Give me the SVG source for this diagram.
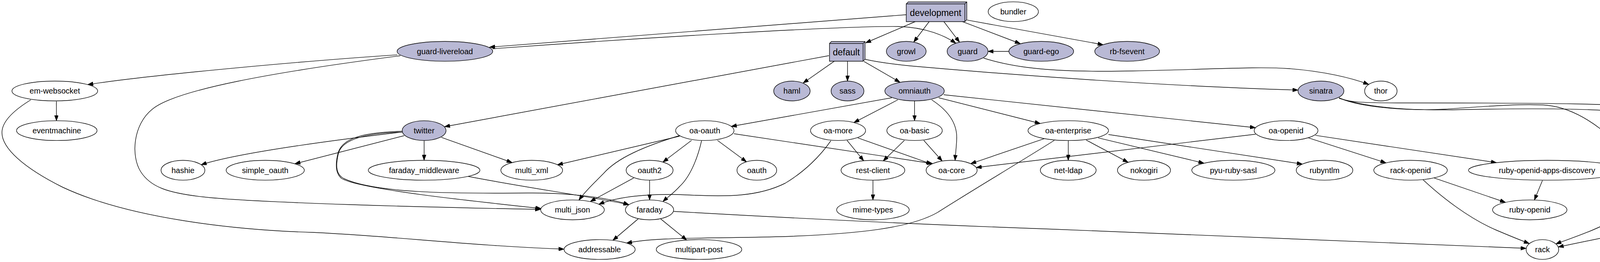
<svg xmlns="http://www.w3.org/2000/svg" width="4570" height="672" viewBox="0 0 4570 672">
<defs>
<marker id="ah" viewBox="0 0 14 10" refX="14" refY="5" markerWidth="14" markerHeight="10" orient="auto" markerUnits="userSpaceOnUse">
<path d="M0,0 L14,5 L0,10 z" fill="#000" stroke="#000" stroke-width="1"/>
</marker>
</defs>
<style>
.n ellipse, .n polygon {stroke:#000; stroke-width:1.4; fill:#fff}
.f ellipse, .f polygon {fill:#B9B9D5}
.n line {stroke:#000; stroke-width:1.4}
text {font-family:"Liberation Sans", Arial, sans-serif; font-size:20px; text-anchor:middle; fill:#000}
.g text {font-size:23px}
#edges path {fill:none; stroke:#000; stroke-width:1.4; marker-end:url(#ah)}
</style>
<rect width="4570" height="672" fill="#fff"/>
<g id="edges">
<path d="M2320,37.7 L1253,121"/>
<path d="M1261,125 C1600,100 2150,66 2300,68 C2370,70 2420,92 2447,111"/>
<path d="M2344,55 L2216,110"/>
<path d="M2379,55 L2339,108"/>
<path d="M2416,55 L2456.5,108.3"/>
<path d="M2459,53.6 L2612,112"/>
<path d="M2475.5,51.4 L2824,114.7"/>
<path d="M2582.7,131.7 L2529.3,131.7"/>
<path d="M2518,149 C2600,175 2700,186 2900,182 C3100,178 3220,170 3300,176 C3390,183 3460,200 3504,216.5"/>
<path d="M1017,140.6 C800,155 400,190 224.5,217"/>
<path d="M1025,143 C700,185 450,230 390,280 C340,320 335,400 360,440 C385,480 430,495 520,505 C650,520 1100,532 1384,537"/>
<path d="M144.4,260 L144.5,309.6"/>
<path d="M79,256 C40,280 5,310 5,340 C5,380 60,430 160,480 C330,560 600,590 800,596 C1000,605 1200,630 1444,639"/>
<path d="M2122,142.7 L1138,325"/>
<path d="M2136.7,156.4 L2056,213"/>
<path d="M2169.6,157 L2169.6,208"/>
<path d="M2211.7,157.7 L2304,211"/>
<path d="M2214,152 C2250,160 2280,164 2330,169 C2600,193 3000,222 3323,231"/>
<path d="M2283,250.7 L1872,324.3"/>
<path d="M2298.5,256 L2186,314.3"/>
<path d="M2341.3,258.8 L2341.3,309.6"/>
<path d="M2385,256 C2430,285 2452,320 2449,360 C2448,380 2446,395 2445,411.5"/>
<path d="M2403,250.7 L2663,316.7"/>
<path d="M2415.8,243 C2600,260 2900,292 3214,327.5"/>
<path d="M3428,251 C3450,262 3480,264 3600,264 C3900,264 4200,264 4350,284 C4420,296 4458,340 4458,430 C4458,470 4457,490 4456,512.6"/>
<path d="M3428,251 C3480,275 3600,285 3700,280 C3800,273 3900,265 3960,270 C4060,280 4150,370 4195,430 C4230,480 4180,540 4110,575 C4060,600 4010,615 3983,625.6"/>
<path d="M3428,252 C3500,275 3600,285 3750,281 C3950,277 4120,278 4230,295 C4270,302 4300,312 4320,321.9"/>
<path d="M1030,338.6 C800,366 600,395 515,422.5"/>
<path d="M1034.7,348 L755,420"/>
<path d="M1085.7,360.4 L1085.7,411.3"/>
<path d="M1130,352.3 L1311,417"/>
<path d="M1030,336.4 C940,340 880,350 866,390 C858,420 858,445 875,458 C920,485 1200,515 1385,534.7"/>
<path d="M1030,338.6 C940,342 875,355 866,395 C858,430 862,448 880,458 C960,495 1150,497 1350,495 C1450,494 1550,505 1610,525"/>
<path d="M1196,452 C1350,482 1500,502 1610,525"/>
<path d="M1739.8,349.3 L1427,422.7"/>
<path d="M1742,347 C1650,375 1580,405 1545,445 C1515,475 1495,495 1482,513.4"/>
<path d="M1770.4,360 L1697,415.8"/>
<path d="M1836.7,360 L1911,415"/>
<path d="M1796,361 C1785,410 1765,455 1740,478 C1725,495 1710,505 1697,517"/>
<path d="M1879,343 L2388,419.7"/>
<path d="M2196,353.6 L2385,420.9"/>
<path d="M2168.4,360 L2211,412.4"/>
<path d="M2127,361 C2100,400 2060,440 2010,470 C1940,505 1860,505 1760,500 C1660,495 1580,505 1533,524"/>
<path d="M2315.3,360 L2261,412.6"/>
<path d="M2364.8,360 L2412,413"/>
<path d="M2234.7,462.1 L2234.7,512.9"/>
<path d="M1622.4,456.4 L1511,517"/>
<path d="M1663,462.1 L1663,512.9"/>
<path d="M1633.7,561.4 L1569,616.4"/>
<path d="M1691.3,561.4 L1758,615.7"/>
<path d="M1724.5,542.2 C2000,558 2300,574 2700,588 C3200,608 3600,628 3907,637"/>
<path d="M2673.5,355.7 L2485,419.8"/>
<path d="M2734.7,360.4 L2734.7,411.3"/>
<path d="M2780.6,359.2 L2888,416.4"/>
<path d="M2811.2,353.6 L3082,418.5"/>
<path d="M2837.7,345 L3334,420.9"/>
<path d="M2699,360 C2620,410 2470,500 2400,545 C2330,585 2200,600 2000,607 C1800,612 1680,608 1604,623.6"/>
<path d="M3214.3,344.2 L2499,429.7"/>
<path d="M3349.5,353.6 L3548,417.7"/>
<path d="M3367.3,347.1 L3831,417.2"/>
<path d="M3671,456.4 L3854,519"/>
<path d="M3643,461 C3690,505 3760,560 3830,590 C3870,607 3895,617 3915,624.6"/>
<path d="M3948.6,462.9 L3928,513.1"/>
<path d="M4364.4,555.9 L3989,633.5"/>
</g>
<g id="development" class="n f g">
<polygon points="2320,10 2325,5 2475,5 2475,50.5 2470,55.5 2320,55.5"/>
<line x1="2320" y1="10" x2="2470" y2="10"/><line x1="2470" y1="10" x2="2475" y2="5"/><line x1="2470" y1="10" x2="2470" y2="55.5"/>
<text x="2395" y="40.5">development</text>
</g>
<g id="default" class="n f g">
<polygon points="2123.5,111.5 2128.5,106.5 2214.5,106.5 2214.5,152 2209.5,157 2123.5,157"/>
<line x1="2123.5" y1="111.5" x2="2209.5" y2="111.5"/><line x1="2209.5" y1="111.5" x2="2214.5" y2="106.5"/><line x1="2209.5" y1="111.5" x2="2209.5" y2="157"/>
<text x="2166.5" y="142">default</text>
</g>
<g id="bundler" class="n"><ellipse cx="2594" cy="30" rx="64.3" ry="25.4"/><text x="2594" y="37">bundler</text></g>
<g id="guard-livereload" class="n f"><ellipse cx="1139" cy="131.7" rx="122.4" ry="25.4"/><text x="1139" y="138.7">guard-livereload</text></g>
<g id="growl" class="n f"><ellipse cx="2320" cy="131.7" rx="50.8" ry="25.4"/><text x="2320" y="138.7">growl</text></g>
<g id="guard" class="n f"><ellipse cx="2477" cy="131.7" rx="52.3" ry="25.4"/><text x="2477" y="138.7">guard</text></g>
<g id="guard-ego" class="n f"><ellipse cx="2665.6" cy="131.7" rx="82.9" ry="25.4"/><text x="2665.6" y="138.7">guard-ego</text></g>
<g id="rb-fsevent" class="n f"><ellipse cx="2885.5" cy="131.7" rx="82.9" ry="25.4"/><text x="2885.5" y="138.7">rb-fsevent</text></g>
<g id="em-websocket" class="n"><ellipse cx="140.3" cy="233.4" rx="109.7" ry="25.4"/><text x="140.3" y="240.4">em-websocket</text></g>
<g id="haml" class="n f"><ellipse cx="2027.3" cy="233.4" rx="46.7" ry="25.4"/><text x="2027.3" y="240.4">haml</text></g>
<g id="sass" class="n f"><ellipse cx="2169.6" cy="233.4" rx="42.1" ry="25.4"/><text x="2169.6" y="240.4">sass</text></g>
<g id="omniauth" class="n f"><ellipse cx="2341.3" cy="233.4" rx="76" ry="25.4"/><text x="2341.3" y="240.4">omniauth</text></g>
<g id="sinatra" class="n f"><ellipse cx="3381.6" cy="233.4" rx="58.7" ry="25.4"/><text x="3381.6" y="240.4">sinatra</text></g>
<g id="thor" class="n"><ellipse cx="3535" cy="233.4" rx="41.6" ry="25.4"/><text x="3535" y="240.4">thor</text></g>
<g id="eventmachine" class="n"><ellipse cx="145.4" cy="335" rx="103" ry="25.4"/><text x="145.4" y="342">eventmachine</text></g>
<g id="twitter" class="n f"><ellipse cx="1085.7" cy="335" rx="56.1" ry="25.4"/><text x="1085.7" y="342">twitter</text></g>
<g id="oa-oauth" class="n"><ellipse cx="1804.3" cy="335" rx="74.7" ry="25.4"/><text x="1804.3" y="342">oa-oauth</text></g>
<g id="oa-more" class="n"><ellipse cx="2145.4" cy="335" rx="70.4" ry="25.4"/><text x="2145.4" y="342">oa-more</text></g>
<g id="oa-basic" class="n"><ellipse cx="2341.3" cy="335" rx="70.9" ry="25.4"/><text x="2341.3" y="342">oa-basic</text></g>
<g id="oa-enterprise" class="n"><ellipse cx="2734.7" cy="335" rx="103" ry="25.4"/><text x="2734.7" y="342">oa-enterprise</text></g>
<g id="oa-openid" class="n"><ellipse cx="3292.3" cy="335" rx="81.6" ry="25.4"/><text x="3292.3" y="342">oa-openid</text></g>
<g id="tilt" class="n"><ellipse cx="4350.6" cy="335" rx="35.7" ry="25.4"/><text x="4350.6" y="342">tilt</text></g>
<g id="hashie" class="n"><ellipse cx="468.4" cy="436.7" rx="56.1" ry="25.4"/><text x="468.4" y="443.7">hashie</text></g>
<g id="simple_oauth" class="n"><ellipse cx="679" cy="436.7" rx="100" ry="25.4"/><text x="679" y="443.7">simple_oauth</text></g>
<g id="faraday_middleware" class="n"><ellipse cx="1085.7" cy="436.7" rx="142.9" ry="25.4"/><text x="1085.7" y="443.7">faraday_middleware</text></g>
<g id="multi_xml" class="n"><ellipse cx="1361.2" cy="436.7" rx="79" ry="25.4"/><text x="1361.2" y="443.7">multi_xml</text></g>
<g id="oauth2" class="n"><ellipse cx="1663" cy="436.7" rx="60" ry="25.4"/><text x="1663" y="443.7">oauth2</text></g>
<g id="oauth" class="n"><ellipse cx="1937.5" cy="436.7" rx="50.8" ry="25.4"/><text x="1937.5" y="443.7">oauth</text></g>
<g id="rest-client" class="n"><ellipse cx="2234.7" cy="436.7" rx="81.6" ry="25.4"/><text x="2234.7" y="443.7">rest-client</text></g>
<g id="oa-core" class="n"><ellipse cx="2436.2" cy="436.7" rx="65.3" ry="25.4"/><text x="2436.2" y="443.7">oa-core</text></g>
<g id="net-ldap" class="n"><ellipse cx="2734.7" cy="436.7" rx="71.4" ry="25.4"/><text x="2734.7" y="443.7">net-ldap</text></g>
<g id="nokogiri" class="n"><ellipse cx="2928.6" cy="436.7" rx="67.9" ry="25.4"/><text x="2928.6" y="443.7">nokogiri</text></g>
<g id="pyu-ruby-sasl" class="n"><ellipse cx="3157.4" cy="436.7" rx="106.4" ry="25.4"/><text x="3157.4" y="443.7">pyu-ruby-sasl</text></g>
<g id="rubyntlm" class="n"><ellipse cx="3390.8" cy="436.7" rx="72.4" ry="25.4"/><text x="3390.8" y="443.7">rubyntlm</text></g>
<g id="rack-openid" class="n"><ellipse cx="3611" cy="436.7" rx="94.1" ry="25.4"/><text x="3611" y="443.7">rack-openid</text></g>
<g id="ruby-openid-apps-discovery" class="n"><ellipse cx="3960.3" cy="436.7" rx="201" ry="25.4"/><text x="3960.3" y="443.7">ruby-openid-apps-discovery</text></g>
<g id="multi_json" class="n"><ellipse cx="1465.6" cy="538.3" rx="81.4" ry="25.4"/><text x="1465.6" y="545.3">multi_json</text></g>
<g id="faraday" class="n"><ellipse cx="1662.8" cy="538.3" rx="61.7" ry="25.4"/><text x="1662.8" y="545.3">faraday</text></g>
<g id="mime-types" class="n"><ellipse cx="2234.7" cy="538.3" rx="92.9" ry="25.4"/><text x="2234.7" y="545.3">mime-types</text></g>
<g id="ruby-openid" class="n"><ellipse cx="3916.2" cy="538.3" rx="95.2" ry="25.4"/><text x="3916.2" y="545.3">ruby-openid</text></g>
<g id="rack-protection" class="n"><ellipse cx="4449.3" cy="538.3" rx="115" ry="25.4"/><text x="4449.3" y="545.3">rack-protection</text></g>
<g id="addressable" class="n"><ellipse cx="1535" cy="640" rx="91" ry="25.4"/><text x="1535" y="647">addressable</text></g>
<g id="multipart-post" class="n"><ellipse cx="1789.5" cy="640" rx="109.4" ry="25.4"/><text x="1789.5" y="647">multipart-post</text></g>
<g id="rack" class="n"><ellipse cx="3948.6" cy="640" rx="41.8" ry="25.4"/><text x="3948.6" y="647">rack</text></g>
</svg>
